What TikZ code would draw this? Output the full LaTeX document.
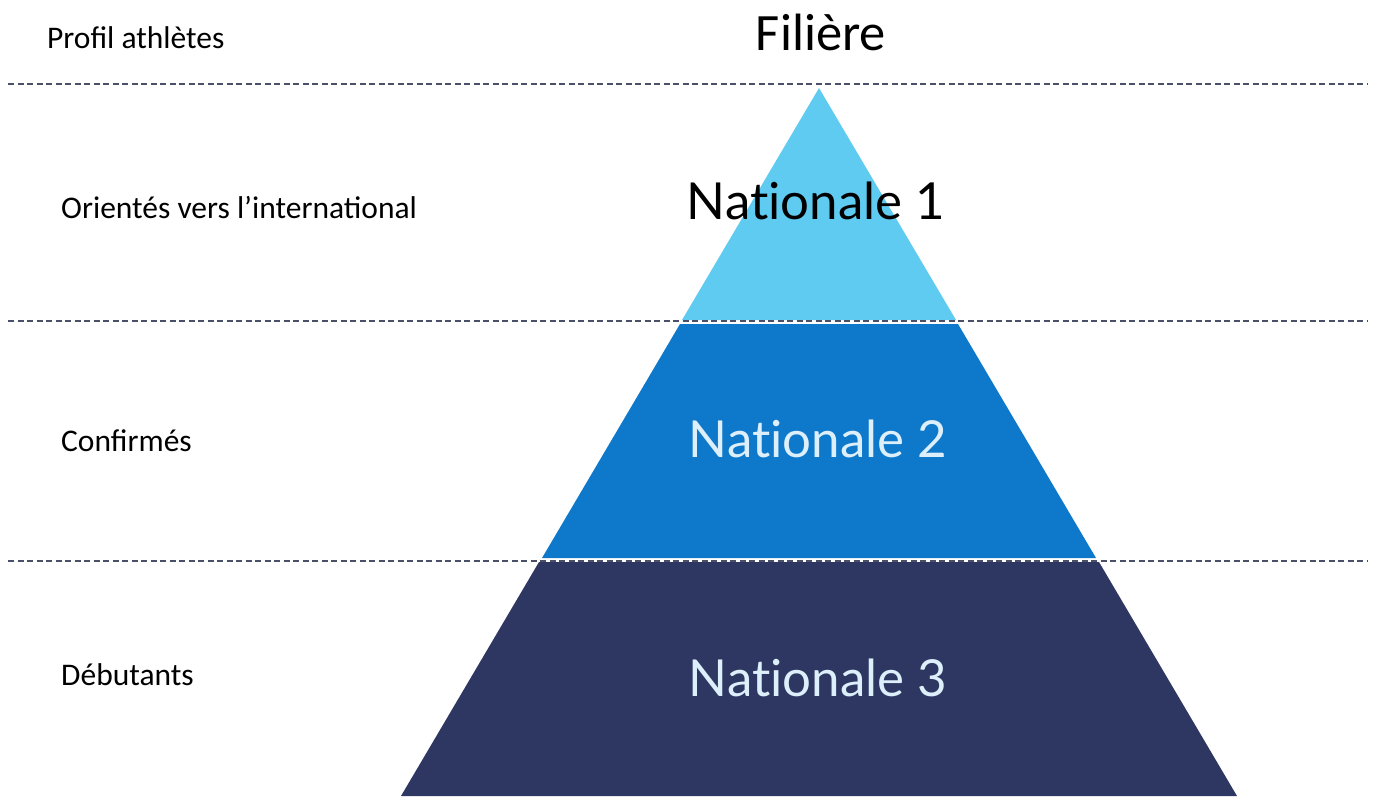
\documentclass[tikz,border=0pt]{standalone}
\usepackage{fontspec}
\setmainfont{Carlito}
\newfontfamily\tierfont[Ligatures={NoCommon,NoRare}]{Lato}
\definecolor{tierA}{HTML}{5FCBF1}
\definecolor{tierB}{HTML}{0E79CA}
\definecolor{tierC}{HTML}{2E3761}
\definecolor{tierTxt}{HTML}{DDEFFA}
\definecolor{sepline}{HTML}{4A5068}
\begin{document}
\begin{tikzpicture}[x=1pt,y=-1pt,
  sep/.style={draw=sepline,line width=1.1pt,dash pattern=on 6pt off 3.5pt},
  lbl/.style={anchor=west,inner sep=0pt,font=\fontsize{31.5}{36}\selectfont},
  tier/.style={inner sep=0pt,font=\tierfont\fontsize{51}{60}\selectfont}]
\useasboundingbox (0,0) rectangle (1375,796);
% bands
\coordinate (apex) at (819,88);
\fill[tierA] (apex) -- (956,320) -- (682,320) -- cycle;
\fill[tierB] (680,324) -- (958,324) -- (1096,558) -- (542,558) -- cycle;
\fill[tierC] (539,562) -- (1099,562) -- (1237,796) -- (401,796) -- cycle;
% separators
\coordinate (s1l) at (8,84);   \coordinate (s1r) at (1368,84);
\coordinate (s2l) at (8,321);  \coordinate (s2r) at (1368,321);
\coordinate (s3l) at (8,561);  \coordinate (s3r) at (1368,561);
\draw[sep] (s1l) -- (s1r);
\draw[sep] (s2l) -- (s2r);
\draw[sep] (s3l) -- (s3r);
% titles
\node[lbl] (profil) at (47,38) {Profil athlètes};
\node[inner sep=0pt,font=\fontsize{52.5}{60}\selectfont] (filiere) at (821,32) {Filière};
% left labels
\node[lbl] (orient) at (61,208) {Orientés vers l’international};
\node[lbl] (conf) at (61,441) {Confirmés};
\node[lbl] (deb) at (61,675) {Débutants};
% tier labels
\node[tier,text=black] (n1) at (816,201) {Nationale 1};
\node[tier,text=tierTxt] (n2) at (818,439) {Nationale 2};
\node[tier,text=tierTxt] (n3) at (818,678) {Nationale 3};
\end{tikzpicture}
\end{document}
